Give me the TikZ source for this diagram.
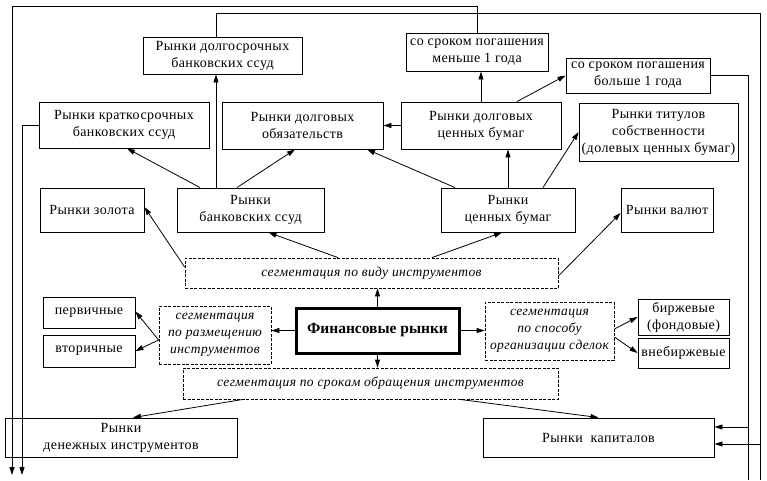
\documentclass[tikz,border=0pt]{standalone}
\usepackage{fontspec}
\setmainfont{Liberation Serif}
\usetikzlibrary{arrows.meta}
\newcommand\mkbox[7][box]{\node[#1, minimum width={(#5-#3)*1pt}, minimum height={(#6-#4)*1pt}] (#2) at ({(#3+#5)/2},{(#4+#6)/2}) {#7};}
\begin{document}
\begin{tikzpicture}[x=1pt,y=-1pt,
  box/.style={draw, line width=0.9pt, align=center, inner sep=1pt, font=\fontsize{14}{17}\selectfont\addfontfeature{LetterSpace=3}},
  dbox/.style={box, dash pattern=on 3pt off 1.5pt, line width=0.8pt, font=\fontsize{13.5}{17}\selectfont\itshape\addfontfeature{LetterSpace=3}},
  fbox/.style={box, line width=3pt, font=\fontsize{15.5}{18}\selectfont\bfseries\addfontfeature{LetterSpace=0}},
  arr/.style={-{Triangle[length=8pt,width=5pt]}, line width=0.8pt},
  ln/.style={line width=0.8pt}]
\useasboundingbox (0,0) rectangle (767,480);
\fill[white] (0,0) rectangle (767,480);
% boxes
\mkbox{dolg}{143}{37}{302}{74}{Рынки долгосрочных\\банковских ссуд}
\mkbox{men}{406}{33}{548}{71}{со сроком погашения\\меньше 1 года}
\mkbox{bol}{566}{58}{710}{93}{со сроком погашения\\больше 1 года}
\mkbox{kr}{39}{102}{209}{148}{Рынки краткосрочных\\банковских ссуд}
\mkbox{obl}{222}{102}{383}{149}{Рынки долговых\\обязательств}
\mkbox{dcb}{401}{102}{561}{149}{Рынки долговых\\ценных бумаг}
\mkbox{tit}{579}{103}{738}{161}{Рынки титулов\\собственности\\(долевых ценных бумаг)}
\mkbox{zol}{40}{188}{144}{232}{Рынки золота}
\mkbox{bs}{177}{188}{324}{232}{Рынки\\банковских ссуд}
\mkbox{cb}{441}{188}{575}{232}{Рынки\\ценных бумаг}
\mkbox{val}{621}{188}{713}{232}{Рынки валют}
\mkbox[dbox]{svid}{185}{258}{558}{288}{сегментация по виду инструментов}
\mkbox{perv}{43}{297}{135}{328}{первичные}
\mkbox{vtor}{43}{335}{135}{367}{вторичные}
\mkbox[dbox]{sraz}{159}{306}{271}{364}{сегментация\\по размещению\\инструментов}
\mkbox[fbox]{fin}{296}{308}{459}{353}{Финансовые рынки}
\mkbox[dbox]{sspo}{485}{302}{614}{360}{сегментация\\по способу\\организации сделок}
\mkbox{birzh}{638}{299}{729}{335}{биржевые\\(фондовые)}
\mkbox{vneb}{638}{338}{729}{368}{внебиржевые}
\mkbox[dbox]{ssrok}{183}{368}{558}{399}{сегментация по срокам обращения инструментов}
\mkbox{den}{5}{418}{237}{457}{Рынки\\денежных инструментов}
\mkbox{kap}{483}{418}{714}{457}{Рынки\ \ капиталов}
% helper coordinates
\coordinate (vx) at (216,0);
\coordinate (lA) at (12,6.5);
\coordinate (lAe) at (12,475);
\coordinate (lK) at (22,475);
\coordinate (lB) at (760,13);
\coordinate (lBk) at (760,444);
\coordinate (lBe) at (760,480);
\coordinate (lCk) at (748,427);
\coordinate (lCe) at (748,480);
% central arrows
\draw[arr] (fin.north) -- (fin.north |- svid.south);
\draw[arr] (fin.south) -- (fin.south |- ssrok.north);
\draw[arr] (fin.west) -- (fin.west -| sraz.east);
\draw[arr] (fin.east) -- (fin.east -| sspo.west);
\draw[arr] ([yshift=-5pt]sraz.west) -- ([yshift=1pt]perv.east);
\draw[arr] ([yshift=-5pt]sraz.west) -- (vtor.east);
\draw[arr] ([yshift=2pt]sspo.east) -- (birzh.west);
\draw[arr] ([yshift=-6pt]sspo.east) -- (vneb.west);
% from segmentation by type
\draw[arr] ([yshift=6pt]svid.west) -- ([yshift=3pt]zol.east);
\draw[arr] ([xshift=-33.5pt]svid.north) -- ([xshift=18pt]bs.south);
\draw[arr] ([xshift=60.5pt]svid.north) -- ([xshift=-6pt]cb.south);
\draw[arr] ([yshift=-3pt]svid.east) -- ([yshift=-3pt]val.west);
% from bank loans
\draw[arr] ([xshift=-50.5pt]bs.north) -- ([xshift=3pt]kr.south);
\draw[arr] (bs.north -| vx) -- (dolg.south -| vx);
\draw[arr] ([xshift=-13.5pt]bs.north) -- ([xshift=-7.5pt]obl.south);
% from securities
\draw[arr] ([xshift=-53pt]cb.north) -- ([xshift=64.5pt]obl.south);
\draw[arr] (cb.north) -- (cb.north |- dcb.south);
\draw[arr] ([xshift=35pt]cb.north) -- (tit.west);
\draw[arr] (dcb.west) -- (obl.east);
\draw[arr] (dcb.north) -- (dcb.north |- men.south);
\draw[arr] ([xshift=36pt]dcb.north) -- (bol.west);
% by maturity
\draw[arr] ([xshift=-127.5pt]ssrok.south) -- ([xshift=12pt]den.north);
\draw[arr] ([xshift=89.5pt]ssrok.south) -- (kap.north);
% long connectors
\draw[arr] (men.north) |- (lA) -- (lAe);
\draw[arr] (kr.west) -| (lK);
\draw[ln] (dolg.north -| vx) |- (lB) -- (lBe);
\draw[arr] (lBk) -- (kap.east |- lBk);
\draw[ln] (bol.east) -| (lCe);
\draw[arr] (lCk) -- (kap.east |- lCk);
\end{tikzpicture}
\end{document}
